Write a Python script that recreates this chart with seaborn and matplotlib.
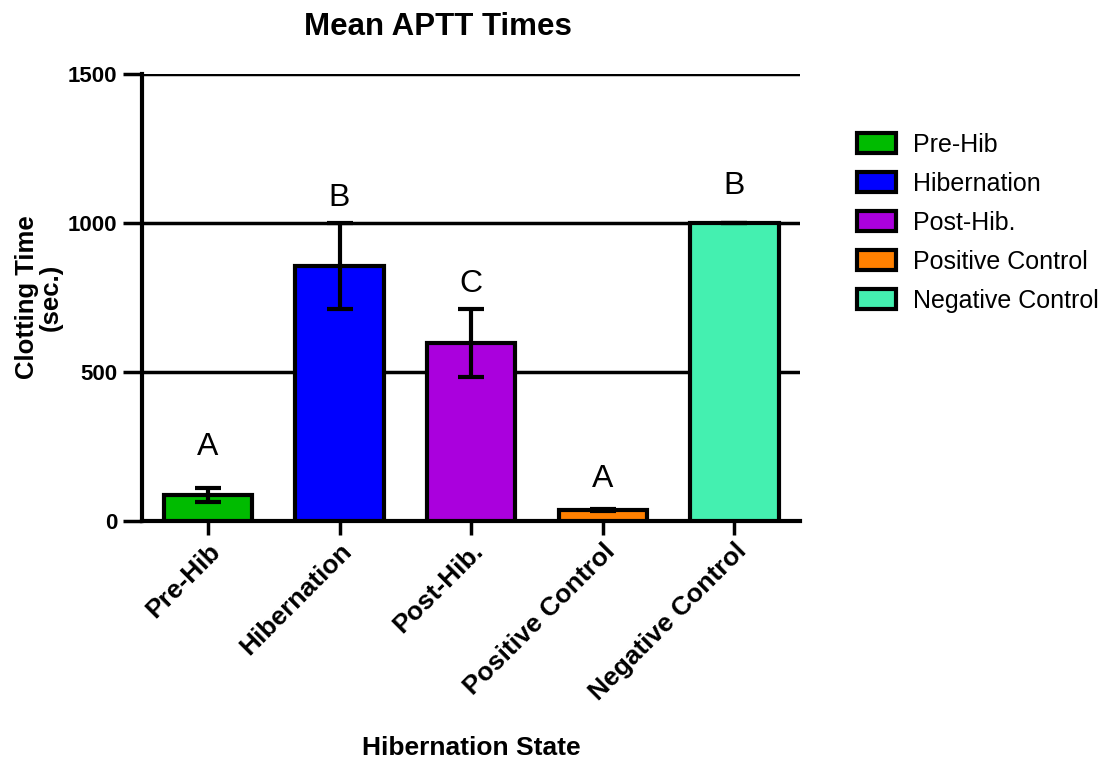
import matplotlib
matplotlib.use("Agg")
import matplotlib.pyplot as plt
import seaborn as sns
import pandas as pd
from matplotlib.patches import Patch

categories = ["Pre-Hib", "Hibernation", "Post-Hib.", "Positive Control", "Negative Control"]
means = [87, 856, 597, 37, 1000]
errors = [23, 146, 113, 4, 0]
letters = ["A", "B", "C", "A", "B"]
letter_y = [248, 1084, 795, 141, 1124]
colors = ["#00BB00", "#0000FF", "#AA00DD", "#FF8000", "#44F0B0"]
yticks = [0, 500, 1000, 1500]

sns.set_theme(style="white")
plt.rcParams["font.family"] = ["Liberation Sans", "DejaVu Sans"]
plt.rcParams.update({"text.color": "black", "axes.labelcolor": "black",
                     "xtick.color": "black", "ytick.color": "black"})

df = pd.DataFrame({"state": categories, "time": means})

fig = plt.figure(figsize=(11.1, 7.65), dpi=100)
ax = fig.add_axes([0.128, 0.319, 0.593, 0.584])

sns.barplot(data=df, x="state", y="time", hue="state", palette=colors,
            saturation=1, width=0.67, edgecolor="black", linewidth=3, legend=False,
            errorbar=None, ax=ax, zorder=3)
ax.errorbar(range(len(categories)), means, yerr=errors, fmt="none",
            ecolor="black", elinewidth=3, capsize=9.5, capthick=3, zorder=4)

for i, (lab, yy) in enumerate(zip(letters, letter_y)):
    ax.text(i, yy, lab, ha="center", va="center", fontsize=23, color="black")

ax.set_ylim(0, 1500)
ax.set_xlim(-0.5, 4.5)
ax.set_yticks(yticks)
ax.set_yticklabels([str(t) for t in yticks], fontweight="bold", fontsize=16)
for t in yticks[1:]:
    ax.axhline(t, color="black", lw=2.5, zorder=1)

for side in ["top", "right"]:
    ax.spines[side].set_visible(False)
for side in ["left", "bottom"]:
    ax.spines[side].set_linewidth(3)
    ax.spines[side].set_color("black")
ax.tick_params(axis="y", direction="out", length=14, width=2.5, color="black", left=True, pad=4)
ax.tick_params(axis="x", direction="out", length=10, width=2.5, color="black", bottom=True, pad=3)
ax.set_xticks(range(len(categories)))
ax.set_xticklabels(categories, rotation=45, ha="right", rotation_mode="anchor",
                   fontweight="bold", fontsize=19)

ax.set_xlabel("Hibernation State", fontweight="bold", fontsize=19, labelpad=22)
ax.set_ylabel("Clotting Time\n(sec.)", fontweight="bold", fontsize=18.5, linespacing=1.0)
ax.yaxis.set_label_coords(-0.12, 0.5)
ax.set_title("Mean APTT Times", fontweight="bold", fontsize=22.5, pad=28, x=0.45)

handles = [Patch(facecolor=c, edgecolor="black", linewidth=3, label=l)
           for c, l in zip(colors, categories)]
leg = fig.legend(handles=handles, loc="upper left", bbox_to_anchor=(0.752, 0.856),
                 frameon=False, fontsize=18, handlelength=1.55, handleheight=0.8,
                 labelspacing=0.6, handletextpad=0.7)

fig.savefig("out.png", dpi=100)
